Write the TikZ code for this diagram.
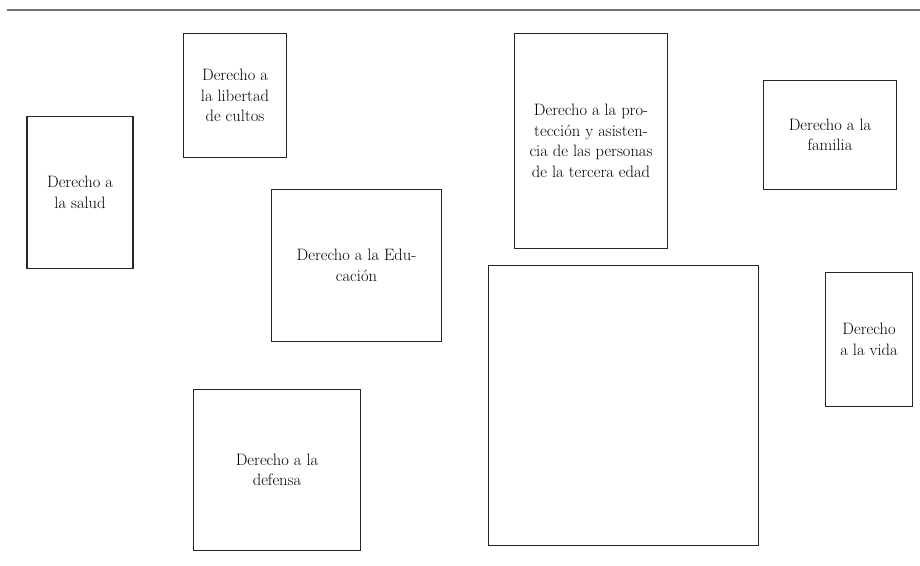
\documentclass[tikz,border=0pt]{standalone}
\usepackage{tikz}
\usepackage{xcolor}
\usetikzlibrary{positioning}

\begin{document}
\begin{tikzpicture}[x=1pt, y=1pt, on grid, cuadro/.style={rectangle, draw=black!85, line width=1.4pt, inner sep=0pt, align=center, font=\fontsize{16.5}{20.5}\selectfont}]

        \useasboundingbox (0,0) rectangle (920,-565);

        \coordinate (reglaA) at (7,-10);
        \coordinate (reglaB) at (920,-10);
        \draw[black!55, line width=1.6pt] (reglaA) -- (reglaB);

        \node[cuadro, minimum width=106pt, minimum height=152pt] (salud) at (80,-192.5) {Derecho a\\la salud};

        \node[cuadro, minimum width=103pt, minimum height=124pt, above right=97pt and 155pt of salud] (cultos) {Derecho a\\la libertad\\de cultos};

        \node[cuadro, minimum width=170pt, minimum height=152pt, below right=170pt and 121.5pt of cultos] (educacion) {Derecho a la Edu-\\cación};

        \node[cuadro, minimum width=167pt, minimum height=161pt, below left=204.5pt and 79.5pt of educacion] (defensa) {Derecho a la\\defensa};

        \node[cuadro, minimum width=153pt, minimum height=215pt, above right=124.5pt and 234.5pt of educacion] (tercera) {Derecho a la pro-\\tección y asisten-\\cia de las personas\\de la tercera edad};

        \node[cuadro, minimum width=270pt, minimum height=280pt, below right=264.5pt and 32.5pt of tercera] (vacio) {};

        \node[cuadro, minimum width=133pt, minimum height=109pt, above right=6pt and 239pt of tercera] (familia) {Derecho a la\\familia};

        \node[cuadro, minimum width=87pt, minimum height=134pt, below right=204.5pt and 39pt of familia] (vida) {Derecho\\a la vida};

    \end{tikzpicture}
\end{document}
